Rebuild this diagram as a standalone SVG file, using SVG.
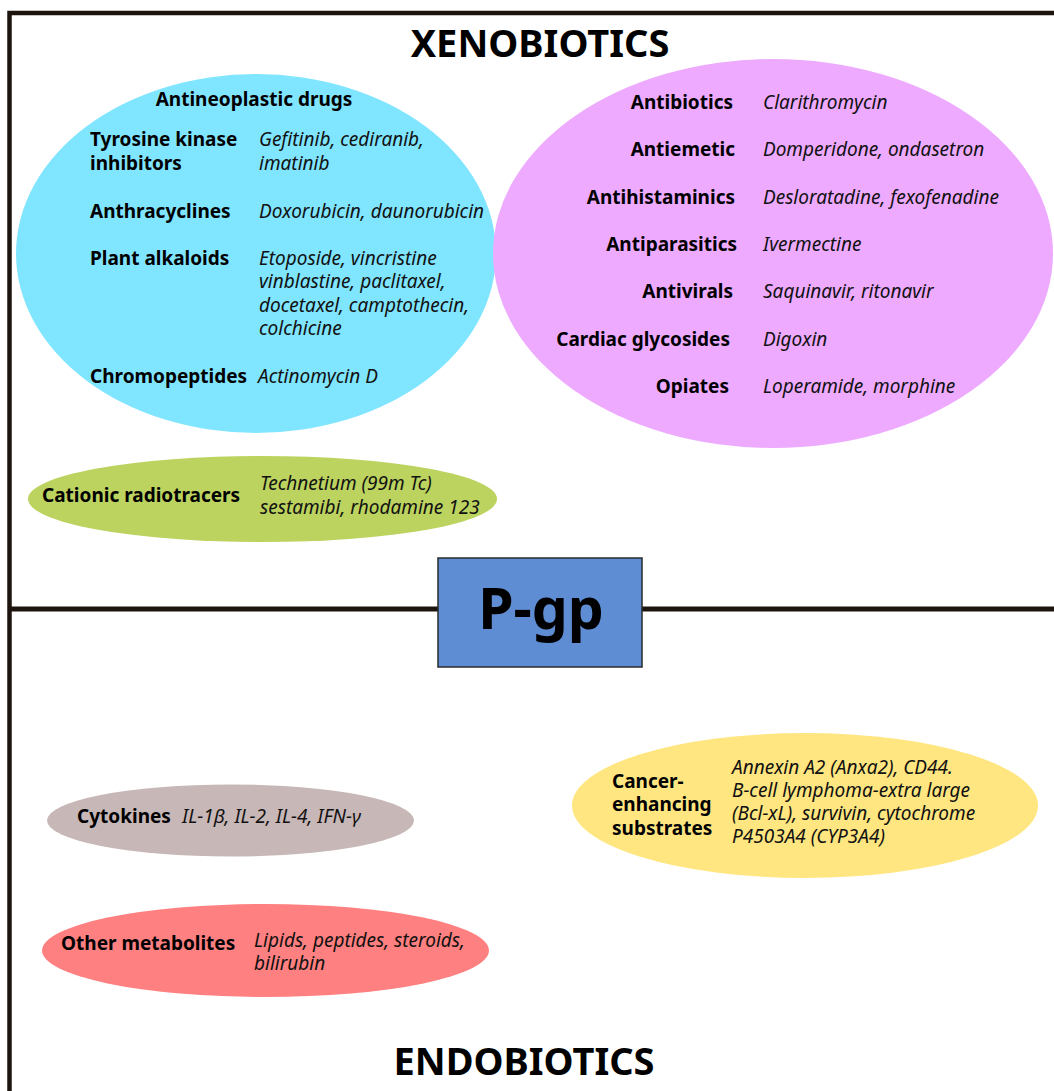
<svg xmlns="http://www.w3.org/2000/svg" width="1054" height="1091" viewBox="0 0 1054 1091">
<style>
text { font-family: "Noto Sans", "Open Sans", "Liberation Sans", sans-serif; fill: #000; }
.b { font-weight: bold; font-size: 19px; }
.i { font-style: italic; font-size: 19px; fill: #111; }
.title { font-weight: bold; font-size: 38px; text-anchor: middle; }
.frame { stroke: #1e140e; fill: none; }
</style>
<rect width="1054" height="1091" fill="#fff"/>
<g id="frame">
  <path class="frame" d="M9.5 1091 V13 H1054" stroke-width="4.5"/>
  <line class="frame" x1="9" y1="609" x2="1054" y2="609" stroke-width="5"/>
</g>
<g id="titles">
  <text class="title" x="540" y="57">XENOBIOTICS</text>
  <text class="title" x="524" y="1075" font-size="37">ENDOBIOTICS</text>
</g>
<g id="antineoplastic">
  <ellipse cx="256" cy="253.5" rx="240" ry="179.5" fill="#80e5ff"/>
  <text class="b" x="254" y="106" text-anchor="middle">Antineoplastic drugs</text>
  <text class="b" x="90" y="146">Tyrosine kinase</text>
  <text class="b" x="90" y="170">inhibitors</text>
  <text class="i" x="259" y="146">Gefitinib, cediranib,</text>
  <text class="i" x="259" y="170">imatinib</text>
  <text class="b" x="90" y="218">Anthracyclines</text>
  <text class="i" x="259" y="218">Doxorubicin, daunorubicin</text>
  <text class="b" x="90" y="265">Plant alkaloids</text>
  <text class="i" x="259" y="265">Etoposide, vincristine</text>
  <text class="i" x="259" y="288">vinblastine, paclitaxel,</text>
  <text class="i" x="259" y="312">docetaxel, camptothecin,</text>
  <text class="i" x="259" y="335">colchicine</text>
  <text class="b" x="90" y="383">Chromopeptides</text>
  <text class="i" x="258" y="383">Actinomycin D</text>
</g>
<g id="other-drugs">
  <ellipse cx="773" cy="253.5" rx="280" ry="194.5" fill="#eeaaff"/>
  <g text-anchor="end">
    <text class="b" x="733" y="109">Antibiotics</text>
    <text class="b" x="735" y="156">Antiemetic</text>
    <text class="b" x="735" y="204">Antihistaminics</text>
    <text class="b" x="737" y="251">Antiparasitics</text>
    <text class="b" x="733" y="298">Antivirals</text>
    <text class="b" x="730" y="346">Cardiac glycosides</text>
    <text class="b" x="729" y="393">Opiates</text>
  </g>
  <text class="i" x="763" y="109">Clarithromycin</text>
  <text class="i" x="763" y="156">Domperidone, ondasetron</text>
  <text class="i" x="763" y="204">Desloratadine, fexofenadine</text>
  <text class="i" x="763" y="251">Ivermectine</text>
  <text class="i" x="763" y="298">Saquinavir, ritonavir</text>
  <text class="i" x="763" y="346">Digoxin</text>
  <text class="i" x="763" y="393">Loperamide, morphine</text>
</g>
<g id="radiotracers">
  <ellipse cx="262.5" cy="499" rx="234.5" ry="43" fill="#bcd35f"/>
  <text class="b" x="42" y="502">Cationic radiotracers</text>
  <text class="i" x="260" y="490">Technetium (99m Tc)</text>
  <text class="i" x="260" y="514">sestamibi, rhodamine 123</text>
</g>
<g id="pgp">
  <rect x="438" y="558" width="204" height="109" fill="#5f8dd3" stroke="#2a2a2a" stroke-width="1.5"/>
  <text x="541" y="629" font-size="57" font-weight="bold" text-anchor="middle">P-gp</text>
</g>
<g id="cancer-enhancing">
  <ellipse cx="805" cy="805.5" rx="233" ry="72.5" fill="#ffe680"/>
  <text class="b" x="612" y="788">Cancer-</text>
  <text class="b" x="612" y="811">enhancing</text>
  <text class="b" x="612" y="835">substrates</text>
  <text class="i" x="732" y="774">Annexin A2 (Anxa2), CD44.</text>
  <text class="i" x="732" y="797">B-cell lymphoma-extra large</text>
  <text class="i" x="732" y="820">(Bcl-xL), survivin, cytochrome</text>
  <text class="i" x="732" y="843">P4503A4 (CYP3A4)</text>
</g>
<g id="cytokines">
  <ellipse cx="230.5" cy="820.5" rx="183.5" ry="36" fill="#c8b7b7"/>
  <text class="b" x="77" y="823">Cytokines</text>
  <text class="i" x="182" y="823">IL-1β, IL-2, IL-4, IFN-γ</text>
</g>
<g id="metabolites">
  <ellipse cx="265.5" cy="950.5" rx="223.5" ry="46.5" fill="#ff8080"/>
  <text class="b" x="61" y="950">Other metabolites</text>
  <text class="i" x="254" y="947">Lipids, peptides, steroids,</text>
  <text class="i" x="254" y="970">bilirubin</text>
</g>
</svg>
